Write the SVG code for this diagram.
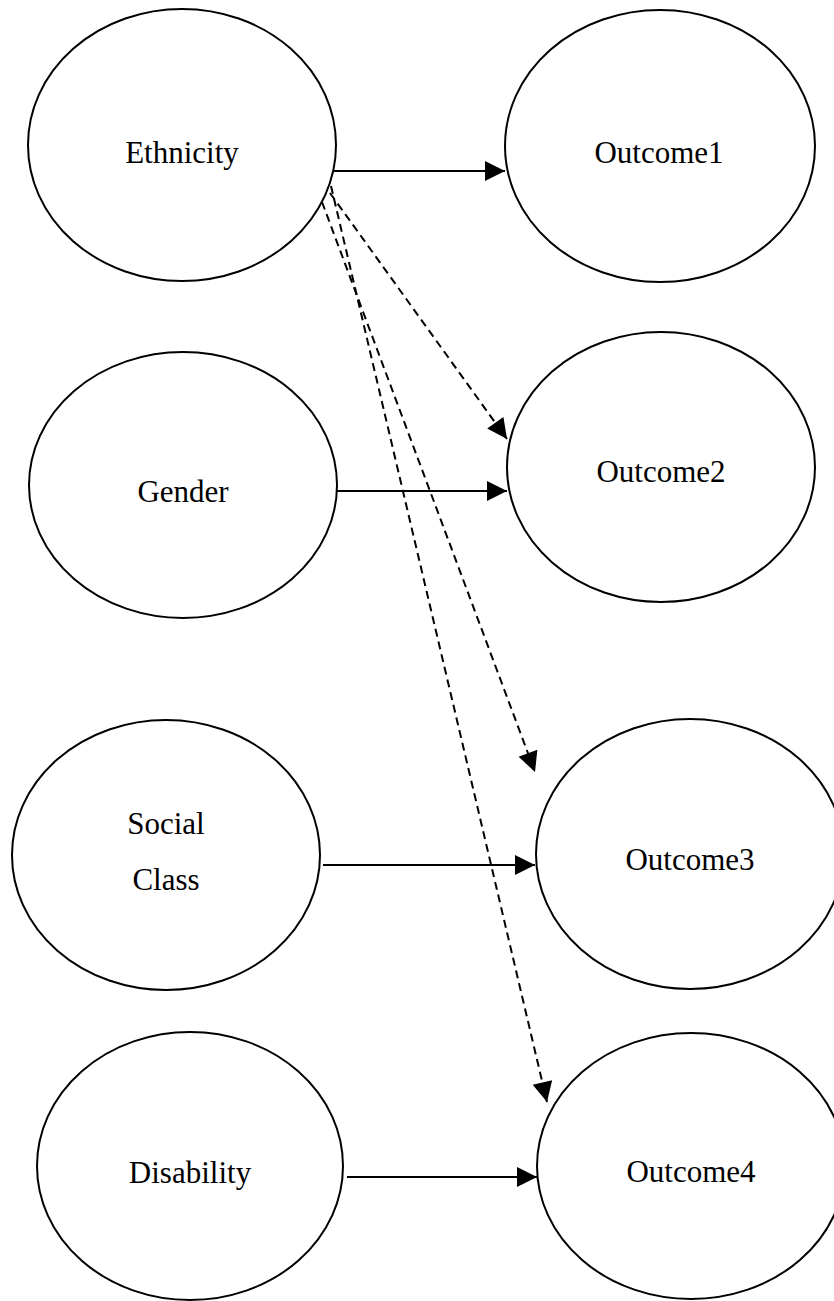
<svg xmlns="http://www.w3.org/2000/svg" width="834" height="1301" viewBox="0 0 834 1301">
<style>
.node ellipse{fill:#fff;stroke:#000;stroke-width:2}
.node text{font-family:"Liberation Serif","Times New Roman",serif;font-size:31px;fill:#000;text-anchor:middle}
.edge{fill:none;stroke:#000;stroke-width:2}
.dash{stroke-dasharray:8 5}
</style>
<defs>
<marker id="ah" markerUnits="userSpaceOnUse" markerWidth="20" markerHeight="20" refX="20" refY="10" orient="auto" overflow="visible">
<path d="M0,0 L20,10 L0,20 Z" fill="#000" stroke="none"/>
</marker>
</defs>
<rect width="834" height="1301" fill="#fff"/>
<g id="connectors">
<line class="edge" x1="332" y1="171" x2="505" y2="171" marker-end="url(#ah)"/>
<line class="edge" x1="337" y1="491" x2="507" y2="491" marker-end="url(#ah)"/>
<line class="edge" x1="323" y1="865" x2="535" y2="865" marker-end="url(#ah)"/>
<line class="edge" x1="347" y1="1177" x2="537" y2="1177" marker-end="url(#ah)"/>
<line class="edge dash" x1="330" y1="193" x2="507" y2="439" marker-end="url(#ah)"/>
<line class="edge dash" x1="322" y1="202" x2="535" y2="772" marker-end="url(#ah)"/>
<line class="edge dash" x1="331" y1="186" x2="547" y2="1102" marker-end="url(#ah)"/>
</g>
<g id="ethnicity" class="node"><ellipse cx="182" cy="145" rx="154" ry="136"/><text x="182" y="163">Ethnicity</text></g>
<g id="outcome1" class="node"><ellipse cx="660" cy="146" rx="155" ry="136"/><text x="659" y="163">Outcome1</text></g>
<g id="gender" class="node"><ellipse cx="183" cy="485" rx="154" ry="133"/><text x="183" y="502">Gender</text></g>
<g id="outcome2" class="node"><ellipse cx="661" cy="467" rx="154" ry="135"/><text x="661" y="482">Outcome2</text></g>
<g id="socialclass" class="node"><ellipse cx="166" cy="855" rx="154" ry="135"/><text x="166" y="834">Social</text><text x="166" y="890">Class</text></g>
<g id="outcome3" class="node"><ellipse cx="690" cy="854" rx="154" ry="135"/><text x="690" y="870">Outcome3</text></g>
<g id="disability" class="node"><ellipse cx="190" cy="1166" rx="153" ry="134"/><text x="190" y="1183">Disability</text></g>
<g id="outcome4" class="node"><ellipse cx="691" cy="1166" rx="154" ry="133"/><text x="691" y="1182">Outcome4</text></g>
</svg>
